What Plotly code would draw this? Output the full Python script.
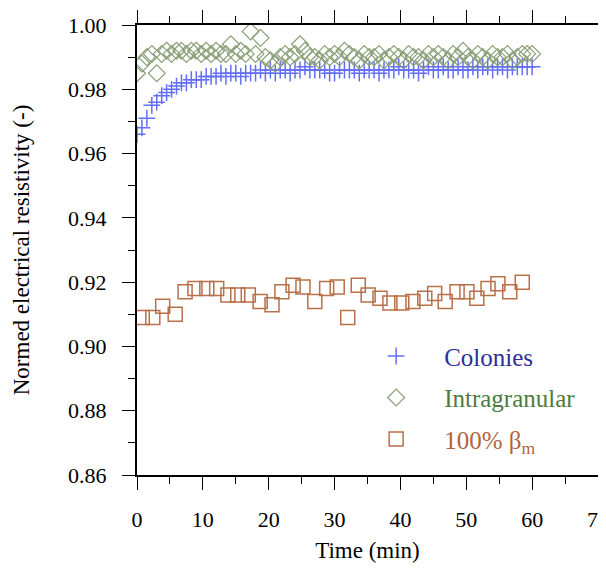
import plotly.graph_objects as go

# ---- data ----
col_t = [0, 0.75, 1.5, 2.25, 3, 3.75, 4.5, 5.25, 6, 6.75,
         7.5, 8.25, 9, 9.75, 10.5, 11.25, 12, 12.75, 13.5, 14.25,
         15, 15.75, 16.5, 17.25, 18, 18.75, 19.5, 20.25, 21, 21.75,
         22.5, 23.25, 24, 24.75, 25.5, 26.25, 27, 27.75, 28.5, 29.25,
         30, 30.75, 31.5, 32.25, 33, 33.75, 34.5, 35.25, 36, 36.75,
         37.5, 38.25, 39, 39.75, 40.5, 41.25, 42, 42.75, 43.5, 44.25,
         45, 45.75, 46.5, 47.25, 48, 48.75, 49.5, 50.25, 51, 51.75,
         52.5, 53.25, 54, 54.75, 55.5, 56.25, 57, 57.75, 58.5, 59.25,
         60]
colonies = [0.966, 0.968, 0.971, 0.975, 0.976, 0.978, 0.979, 0.980, 0.981, 0.982,
            0.982, 0.983, 0.983, 0.983, 0.984, 0.984, 0.984, 0.985, 0.984, 0.985,
            0.985, 0.984, 0.985, 0.985, 0.985, 0.986, 0.985, 0.986, 0.985, 0.986,
            0.986, 0.985, 0.986, 0.986, 0.987, 0.986, 0.986, 0.986, 0.986, 0.985,
            0.985, 0.986, 0.986, 0.986, 0.986, 0.985, 0.986, 0.986, 0.986, 0.985,
            0.986, 0.986, 0.986, 0.987, 0.986, 0.986, 0.986, 0.985, 0.986, 0.987,
            0.986, 0.986, 0.987, 0.986, 0.986, 0.987, 0.986, 0.986, 0.987, 0.986,
            0.987, 0.987, 0.986, 0.987, 0.987, 0.986, 0.987, 0.987, 0.987, 0.987,
            0.987]
intra_t = col_t
intragranular = [0.985, 0.988, 0.990, 0.991, 0.985, 0.991, 0.992, 0.991, 0.992, 0.992,
                 0.991, 0.992, 0.992, 0.991, 0.992, 0.991, 0.992, 0.991, 0.991, 0.994,
                 0.991, 0.992, 0.991, 0.998, 0.991, 0.996, 0.990, 0.989, 0.988, 0.990,
                 0.991, 0.990, 0.991, 0.994, 0.992, 0.990, 0.990, 0.989, 0.991, 0.990,
                 0.991, 0.990, 0.992, 0.991, 0.990, 0.989, 0.991, 0.990, 0.990, 0.991,
                 0.989, 0.990, 0.991, 0.990, 0.989, 0.991, 0.990, 0.990, 0.989, 0.991,
                 0.990, 0.991, 0.990, 0.989, 0.991, 0.990, 0.992, 0.990, 0.989, 0.991,
                 0.990, 0.989, 0.991, 0.990, 0.990, 0.991, 0.989, 0.990, 0.991, 0.991,
                 0.991]
beta_t = [0.8, 2.4, 3.9, 5.8, 7.3, 8.8, 10.6, 12.1, 13.8, 15.3,
          16.9, 18.7, 20.5, 22.0, 23.7, 25.2, 27.0, 28.8, 30.4, 32.0,
          33.6, 35.1, 36.9, 38.4, 40.2, 41.9, 43.7, 45.2, 46.8, 48.6,
          50.1, 51.6, 53.3, 54.8, 56.6, 58.5]
beta_m = [0.909, 0.909, 0.9125, 0.910, 0.917, 0.918, 0.918, 0.918, 0.916, 0.916,
          0.916, 0.914, 0.913, 0.917, 0.919, 0.9185, 0.914, 0.918, 0.9185, 0.909,
          0.919, 0.916, 0.915, 0.9135, 0.9135, 0.914, 0.915, 0.9165, 0.914, 0.917,
          0.917, 0.915, 0.918, 0.9195, 0.917, 0.920]

x_ticks = [0, 10, 20, 30, 40, 50, 60, 70]
y_ticks = [0.86, 0.88, 0.90, 0.92, 0.94, 0.96, 0.98, 1.00]

SERIF = "Liberation Serif"

fig = go.Figure()
fig.add_trace(go.Scatter(
    x=col_t, y=colonies, mode="markers",
    name="<span style='color:#2e2e9a'>Colonies</span>",
    legendgroup="a",
    marker=dict(symbol="cross-thin-open", size=12, line=dict(color="#2a2ad0", width=1.5))))
fig.add_trace(go.Scatter(
    x=intra_t, y=intragranular, mode="markers",
    name="<span style='color:#4d7a3f'>Intragranular</span>",
    legendgroup="b",
    marker=dict(symbol="diamond-open", size=13, color="#8a9f78", line=dict(color="#8a9f78", width=1.2))))
fig.add_trace(go.Scatter(
    x=beta_t, y=beta_m, mode="markers",
    name="<span style='color:#b0643e'>100% β<sub>m</sub></span>",
    legendgroup="c",
    marker=dict(symbol="square-open", size=14, color="#b8704a", line=dict(color="#b8704a", width=1.5))))

axis_common = dict(
    showline=True, linecolor="black", linewidth=2, mirror="ticks",
    ticks="outside", ticklen=13, tickwidth=1.3, tickcolor="black",
    showgrid=False, zeroline=False, automargin=False,
    ticklabeloverflow="allow",
    tickfont=dict(family=SERIF, size=22, color="black"),
)
fig.update_xaxes(range=[0, 70], tickvals=x_ticks, ticktext=[str(v) for v in x_ticks],
                 title=dict(text="Time (min)", font=dict(family=SERIF, size=23, color="black"), standoff=12),
                 minor=dict(dtick=5, ticks="outside", ticklen=7, tickcolor="black"),
                 ticklabelstandoff=11, **axis_common)
fig.update_yaxes(range=[0.86, 1.00], tickvals=y_ticks, ticktext=[f"{v:.2f}" for v in y_ticks],
                 title=dict(text="Normed electrical resistivity (-)", font=dict(family=SERIF, size=23, color="black"), standoff=32),
                 minor=dict(dtick=0.01, ticks="outside", ticklen=7, tickcolor="black"),
                 ticklabelstandoff=11, **axis_common)

fig.update_layout(
    width=598, height=555,
    margin=dict(l=129, r=8, t=17, b=88),
    plot_bgcolor="white", paper_bgcolor="white",
    font=dict(family=SERIF, size=22, color="black"),
    legend=dict(x=0.458, y=0.315, xanchor="left", yanchor="top",
                bgcolor="rgba(0,0,0,0)", itemwidth=86, tracegroupgap=6,
                traceorder="grouped", font=dict(family=SERIF, size=25)),
)

fig.write_html("out.html")
